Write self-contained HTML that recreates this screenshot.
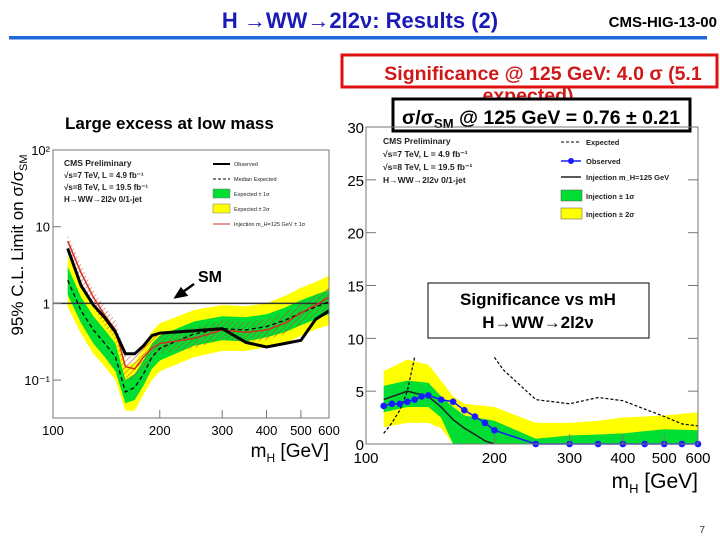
<!DOCTYPE html>
<html><head><meta charset="utf-8"><style>
body{margin:0;width:720px;height:540px;background:#fff;overflow:hidden;font-family:"Liberation Sans",sans-serif;}
</style></head><body>
<svg id="s" width="720" height="540" xmlns="http://www.w3.org/2000/svg" font-family="Liberation Sans, sans-serif">
<defs>
<pattern id="hatch" width="4" height="4" patternUnits="userSpaceOnUse" patternTransform="rotate(45)"><line x1="0" y1="0" x2="0" y2="4" stroke="#d04030" stroke-width="1"/></pattern>
</defs>
<text x="360" y="28" text-anchor="middle" font-size="22" font-weight="bold" fill="#1a1ab4">H →WW→2l2ν: Results (2)</text>
<text x="717" y="27" text-anchor="end" font-size="15" font-weight="bold" fill="#000">CMS-HIG-13-00</text>
<rect x="9" y="36" width="698" height="3.5" fill="#1f6ad6"/>
<rect x="342" y="55" width="375" height="32" fill="none" stroke="#e01010" stroke-width="3"/>
<text x="543" y="80" text-anchor="middle" font-size="19.5" font-weight="bold" fill="#d01818">Significance @ 125 GeV: 4.0 σ (5.1</text>
<text x="528" y="102" text-anchor="middle" font-size="19.5" font-weight="bold" fill="#d01818">expected)</text>
<rect x="393" y="99" width="297" height="32" fill="#fff" stroke="#000" stroke-width="3"/>
<text x="541" y="124" text-anchor="middle" font-size="19.5" font-weight="bold" fill="#000">σ/σ<tspan font-size="13" dy="4">SM</tspan><tspan dy="-4"> @ 125 GeV = 0.76 ± 0.21</tspan></text>
<text x="65" y="129" font-size="17" font-weight="bold" fill="#000">Large excess at low mass</text>
<text x="705" y="533" text-anchor="end" font-size="10" fill="#333">7</text>
<g id="left"></g>
<g id="right"></g>
</svg>
<script>
// ---- Left chart data (limit) ----
const lMass=[110,120,130,140,150,160,170,180,190,200,250,300,350,400,450,500,550,600];
const lObs=[5.2,1.7,0.95,0.65,0.42,0.22,0.22,0.28,0.38,0.41,0.44,0.47,0.31,0.27,0.3,0.33,0.62,0.8];
const lExp=[2.0,0.8,0.45,0.3,0.2,0.07,0.08,0.12,0.2,0.26,0.4,0.47,0.45,0.5,0.6,0.75,0.9,1.05];
const l1Lo=[1.3,0.55,0.3,0.2,0.13,0.05,0.055,0.085,0.14,0.18,0.28,0.33,0.32,0.36,0.42,0.52,0.62,0.72];
const l1Hi=[3.0,1.2,0.68,0.45,0.3,0.1,0.12,0.18,0.3,0.38,0.58,0.68,0.66,0.72,0.88,1.1,1.3,1.5];
const l2Lo=[0.9,0.4,0.22,0.15,0.1,0.04,0.04,0.065,0.1,0.13,0.2,0.24,0.24,0.27,0.3,0.38,0.46,0.52];
const l2Hi=[4.2,1.8,1.0,0.65,0.45,0.15,0.17,0.26,0.43,0.55,0.82,0.95,0.92,1.0,1.25,1.6,1.9,2.3];
const lInj=[6.5,2.5,1.2,0.7,0.45,0.15,0.14,0.2,0.26,0.3,0.35,0.45,0.42,0.45,0.55,0.75,0.95,1.2];
const lInjLo=[4.5,1.8,0.9,0.5,0.33,0.1,0.1,0.14,0.19,0.22,0.26,0.34,0.31,0.33,0.4,0.55,0.7,0.85];
const lInjHi=[8,3.2,1.5,0.9,0.6,0.21,0.2,0.28,0.36,0.42,0.48,0.6,0.58,0.62,0.75,1.0,1.3,1.6];
const lXTicks=[100,200,300,400,500,600];
const lYTicks=[100,10,1,0.1];
const lYLabels=["10²","10","1","10⁻¹"];
// ---- Right chart data (significance) ----
const rBandMass=[110,125,140,150,160,170,200,250,300,350,400,500,600];
const rY2Lo=[1.6,2,2,1.5,0,0,0,0,0,0,0,0,0];
const rY2Hi=[6.9,8,7.5,6,4.5,3.8,3.5,2,2,2.2,2.5,2.7,3];
const rG1Lo=[3,3.5,3.5,2.5,0,0,0,0,0,0,0,0,0];
const rG1Hi=[5.5,6,5.8,4.5,3.5,2.7,2.2,0.5,0.8,0.9,1,1.4,1.3];
const rInjMass=[110,125,140,150,160,170,180,190,200];
const rInj=[4.2,5,4.5,3.5,2.3,1.5,0.9,0.3,0];
const rObsMass=[110,115,120,125,130,135,140,150,160,170,180,190,200,250,300,350,400,450,500,550,600];
const rObs=[3.6,3.8,3.8,4.0,4.2,4.5,4.6,4.2,4.0,3.2,2.6,2.0,1.3,0,0,0,0,0,0,0,0];
const rExpMassA=[110,115,120,125,130];
const rExpA=[1.0,2.0,3.2,5.0,8.2];
const rExpMassB=[200,210,250,300,350,400,450,500,550,600];
const rExpB=[8.2,7.0,4.2,3.8,4.4,4.1,3.3,2.6,1.9,1.7];
const rXTicks=[100,200,300,400,500,600];
const rYTicks=[0,5,10,15,20,25,30];

const NS="http://www.w3.org/2000/svg";
function mk(parent,tag,attrs,txt){const e=document.createElementNS(NS,tag);for(const k in attrs)e.setAttribute(k,attrs[k]);if(txt!==undefined)e.textContent=txt;parent.appendChild(e);return e;}
const L={x0:53,x1:329,y0:150,y1:418};
const lx=m=>L.x0+Math.log(m/100)/Math.log(6)*(L.x1-L.x0);
const ly=v=>L.y0+(2-Math.log10(v))*76.7;
const lg=document.getElementById('left');
function bandPath(xs,lo,hi,fx,fy){let d='';xs.forEach((m,i)=>d+=(i?'L':'M')+fx(m).toFixed(1)+','+fy(hi[i]).toFixed(1));for(let i=xs.length-1;i>=0;i--)d+='L'+fx(xs[i]).toFixed(1)+','+fy(lo[i]).toFixed(1);return d+'Z';}
function linePath(xs,ys,fx,fy){return xs.map((m,i)=>(i?'L':'M')+fx(m).toFixed(1)+','+fy(ys[i]).toFixed(1)).join('');}
let e;
e=mk(lg,'path',{d:bandPath(lMass,l2Lo,l2Hi,lx,ly),fill:'#ffff00'});


e=mk(lg,'path',{d:bandPath(lMass,l1Lo,l1Hi,lx,ly),fill:'#00dd33'});


e=mk(lg,'path',{d:bandPath(lMass,lInjLo,lInjHi,lx,ly),fill:'url(#hatch)'});


e=mk(lg,'line',{x1:L.x0,x2:L.x1,y1:ly(1),y2:ly(1),stroke:'#333','stroke-width':1.5});


e=mk(lg,'path',{d:linePath(lMass,lExp,lx,ly),fill:'none',stroke:'#000','stroke-width':1.3,'stroke-dasharray':'4,3'});


e=mk(lg,'path',{d:linePath(lMass,lInj,lx,ly),fill:'none',stroke:'#d03020','stroke-width':1.5});


e=mk(lg,'path',{d:linePath(lMass,lObs,lx,ly),fill:'none',stroke:'#000','stroke-width':3});


e=mk(lg,'rect',{x:L.x0,y:L.y0,width:L.x1-L.x0,height:L.y1-L.y0,fill:'none',stroke:'#777'});


lXTicks.forEach(m=>{e=mk(lg,'text',{x:lx(m),y:435,'text-anchor':'middle','font-size':13},String(m));


mk(lg,'line',{x1:lx(m),x2:lx(m),y1:L.y1,y2:L.y1-8,stroke:'#777'});});
lYTicks.forEach((v,i)=>{e=mk(lg,'text',{x:50,y:ly(v)+5,'text-anchor':'end','font-size':13},lYLabels[i]);


mk(lg,'line',{x1:L.x0,x2:L.x0+8,y1:ly(v),y2:ly(v),stroke:'#777'});});
e=mk(lg,'text',{x:329,y:457,'text-anchor':'end','font-size':19},'m');


e.innerHTML='m<tspan font-size="12" dy="5">H</tspan><tspan dy="-5"> [GeV]</tspan>';
e=mk(lg,'text',{x:0,y:0,'text-anchor':'middle','font-size':17,transform:'translate(23,245) rotate(-90)'});


e.innerHTML='95% C.L. Limit on σ/σ<tspan font-size="11" dy="4">SM</tspan>';
const lInfo=['CMS Preliminary','√s=7 TeV, L = 4.9 fb⁻¹','√s=8 TeV, L = 19.5 fb⁻¹','H→WW→2l2ν 0/1-jet'];
lInfo.forEach((t,i)=>{e=mk(lg,'text',{x:64,y:166+i*12,'font-size':i?8:8.5,'font-weight':'bold',fill:'#222'},t);

});
const lLeg=[['Observed','obs'],['Median Expected','exp'],['Expected ± 1σ','g'],['Expected ± 2σ','y'],['Injection m_H=125 GeV ± 1σ','inj']];
lLeg.forEach((it,i)=>{const y=164+i*15;const g=mk(lg,'g',{});


if(it[1]==='obs')mk(g,'line',{x1:213,x2:230,y1:y,y2:y,stroke:'#000','stroke-width':2});
if(it[1]==='exp')mk(g,'line',{x1:213,x2:230,y1:y,y2:y,stroke:'#000','stroke-dasharray':'3,2'});
if(it[1]==='g')mk(g,'rect',{x:213,y:y-5,width:17,height:9,fill:'#00dd33',stroke:'#777','stroke-width':0.5});
if(it[1]==='y')mk(g,'rect',{x:213,y:y-5,width:17,height:9,fill:'#ffff00',stroke:'#777','stroke-width':0.5});
if(it[1]==='inj')mk(g,'line',{x1:213,x2:230,y1:y,y2:y,stroke:'#d03020'});
mk(g,'text',{x:234,y:y+2,'font-size':5.5,fill:'#222'},it[0]);});
e=mk(lg,'text',{x:198,y:282,'font-size':16,'font-weight':'bold'},'SM');


e=mk(lg,'path',{d:'M194,284 L180,294 M176,297 L186,295 L181,289 Z',stroke:'#000','stroke-width':2.5,fill:'#000'});



const R={x0:366,x1:698,y0:127,y1:444};
const rx=m=>R.x0+Math.log(m/100)/Math.log(6)*(R.x1-R.x0);
const ry=v=>R.y1-v/30*(R.y1-R.y0);
const rg=document.getElementById('right');
e=mk(rg,'path',{d:bandPath(rBandMass,rY2Lo,rY2Hi,rx,ry),fill:'#ffff00'});


e=mk(rg,'path',{d:bandPath(rBandMass,rG1Lo,rG1Hi,rx,ry),fill:'#00dd33'});


e=mk(rg,'path',{d:linePath(rInjMass,rInj,rx,ry),fill:'none',stroke:'#222','stroke-width':1.5});


e=mk(rg,'path',{d:linePath(rExpMassA,rExpA,rx,ry)+linePath(rExpMassB,rExpB,rx,ry),fill:'none',stroke:'#000','stroke-width':1.2,'stroke-dasharray':'3,2'});


e=mk(rg,'path',{d:linePath(rObsMass,rObs,rx,ry),fill:'none',stroke:'#1a1aff','stroke-width':1.5});


rObsMass.forEach((m,i)=>{e=mk(rg,'circle',{cx:rx(m),cy:ry(rObs[i]),r:3.3,fill:'#1a1aff'});

});
e=mk(rg,'rect',{x:R.x0,y:R.y0,width:R.x1-R.x0,height:R.y1-R.y0,fill:'none',stroke:'#777'});


rXTicks.forEach(m=>{e=mk(rg,'text',{x:rx(m),y:463,'text-anchor':'middle','font-size':15},String(m));


mk(rg,'line',{x1:rx(m),x2:rx(m),y1:R.y1,y2:R.y1-10,stroke:'#777'});});
rYTicks.forEach(v=>{e=mk(rg,'text',{x:364,y:ry(v)+6,'text-anchor':'end','font-size':15},String(v));


mk(rg,'line',{x1:R.x0,x2:R.x0+10,y1:ry(v),y2:ry(v),stroke:'#777'});
mk(rg,'line',{x1:R.x1,x2:R.x1-10,y1:ry(v),y2:ry(v),stroke:'#777'});});
e=mk(rg,'text',{x:698,y:488,'text-anchor':'end','font-size':21});


e.innerHTML='m<tspan font-size="13" dy="5">H</tspan><tspan dy="-5"> [GeV]</tspan>';
const rInfo=['CMS Preliminary','√s=7 TeV, L = 4.9 fb⁻¹','√s=8 TeV, L = 19.5 fb⁻¹','H→WW→2l2ν 0/1-jet'];
rInfo.forEach((t,i)=>{e=mk(rg,'text',{x:383,y:144+i*13,'font-size':8.5,'font-weight':'bold',fill:'#222'},t);

});
const rLeg=[['Expected','exp'],['Observed','obs'],['Injection m_H=125 GeV','inj'],['Injection ± 1σ','g'],['Injection ± 2σ','y']];
const rLegY=[142,161,177,196,214];
rLeg.forEach((it,i)=>{const y=rLegY[i];const g=mk(rg,'g',{});


if(it[1]==='exp')mk(g,'line',{x1:561,x2:581,y1:y,y2:y,stroke:'#000','stroke-dasharray':'3,2'});
if(it[1]==='obs'){mk(g,'line',{x1:561,x2:581,y1:y,y2:y,stroke:'#1a1aff','stroke-width':1.5});mk(g,'circle',{cx:571,cy:y,r:3,fill:'#1a1aff'});}
if(it[1]==='inj')mk(g,'line',{x1:561,x2:581,y1:y,y2:y,stroke:'#222','stroke-width':1.5});
if(it[1]==='g')mk(g,'rect',{x:561,y:y-6,width:21,height:11,fill:'#00dd33',stroke:'#555','stroke-width':0.5});
if(it[1]==='y')mk(g,'rect',{x:561,y:y-6,width:21,height:11,fill:'#ffff00',stroke:'#555','stroke-width':0.5});
mk(g,'text',{x:586,y:y+3,'font-size':7.5,'font-weight':'bold',fill:'#222'},it[0]);});
e=mk(rg,'rect',{x:428,y:283,width:221,height:55,fill:'#fff',stroke:'#000'});


e=mk(rg,'text',{x:538,y:305,'text-anchor':'middle','font-size':17,'font-weight':'bold'},'Significance vs mH');


e=mk(rg,'text',{x:538,y:328,'text-anchor':'middle','font-size':17,'font-weight':'bold'},'H→WW→2l2ν');


</script>
</body></html>
